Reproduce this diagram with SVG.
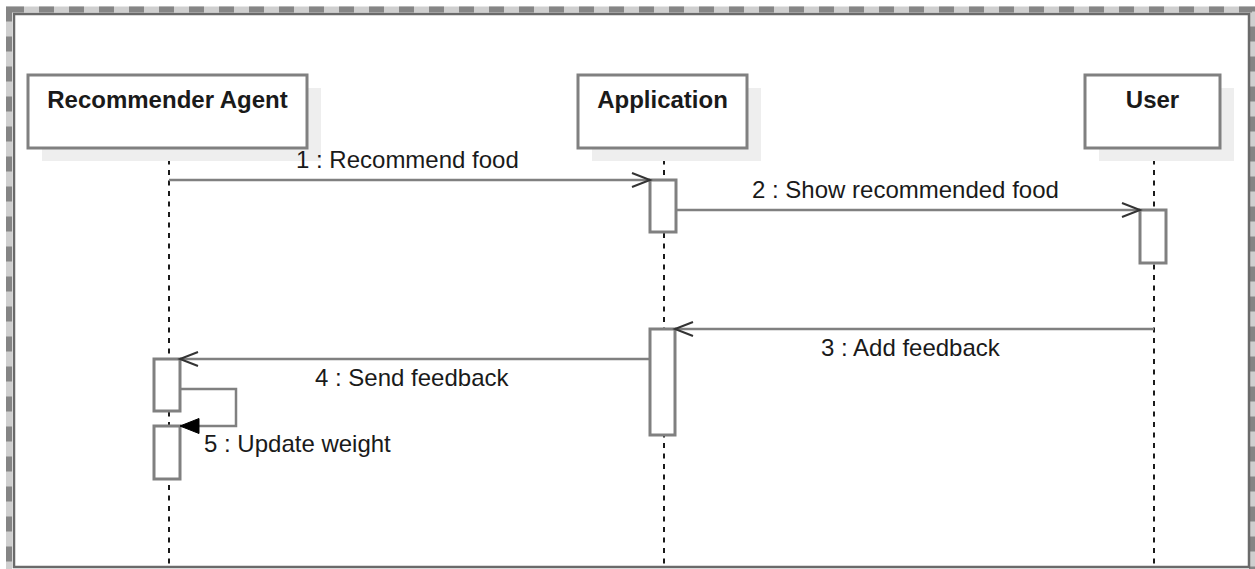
<svg xmlns="http://www.w3.org/2000/svg" width="1255" height="569" viewBox="0 0 1255 569">
  <defs>
    <style>
      .frame-band { fill: none; stroke: #cfcfcf; stroke-width: 6; }
      .frame-dash { fill: none; stroke: #858585; stroke-width: 6; stroke-dasharray: 15 15; }
      .frame-line { fill: none; stroke: #6a6a6a; stroke-width: 2.5; }
      .shadow { fill: #eeeeee; }
      .head { fill: #ffffff; stroke: #808080; stroke-width: 3; }
      .title { font-family: "Liberation Sans", Arial, sans-serif; font-size: 24px; font-weight: bold; fill: #1a1a1a; text-anchor: middle; }
      .lifeline { stroke: #1a1a1a; stroke-width: 2; stroke-dasharray: 5 5.5; fill: none; }
      .act { fill: #ffffff; stroke: #808080; stroke-width: 3; }
      .msg { fill: none; stroke: #808080; stroke-width: 2.5; }
      .label { font-family: "Liberation Sans", Arial, sans-serif; font-size: 24px; fill: #1a1a1a; }
    </style>
    <marker id="open" markerUnits="userSpaceOnUse" markerWidth="24" markerHeight="20" refX="20" refY="9" orient="auto">
      <path d="M2 2 L20 9 L2 16" fill="none" stroke="#333333" stroke-width="2"/>
    </marker>
    <marker id="filled" markerUnits="userSpaceOnUse" markerWidth="24" markerHeight="20" refX="20" refY="9" orient="auto">
      <path d="M1 1.5 L20 9 L1 16.5 Z" fill="#000000" stroke="#000000" stroke-width="1"/>
    </marker>
  </defs>

  <rect width="1255" height="569" fill="#ffffff"/>

  <!-- frame -->
  <g id="frame">
    <rect class="frame-band" x="9" y="9.5" width="1243" height="563"/>
    <rect class="frame-dash" x="9" y="9.5" width="1243" height="563"/>
    <rect class="frame-line" x="14" y="14" width="1235" height="553" fill="#ffffff"/>
  </g>

  <!-- lifelines -->
  <g id="agent">
    <line class="lifeline" x1="169" y1="149" x2="169" y2="566"/>
    <rect class="shadow" x="42" y="88" width="279" height="73"/>
    <rect class="head" x="28" y="75" width="279" height="73"/>
    <text class="title" x="167.5" y="108">Recommender Agent</text>
    <rect class="act" x="154" y="359" width="26" height="52"/>
    <rect class="act" x="154" y="426" width="26" height="53"/>
  </g>

  <g id="application">
    <line class="lifeline" x1="664" y1="149" x2="664" y2="566"/>
    <rect class="shadow" x="592" y="88" width="169" height="73"/>
    <rect class="head" x="578" y="75" width="169" height="73"/>
    <text class="title" x="662.5" y="108">Application</text>
    <rect class="act" x="650" y="180" width="26" height="52"/>
    <rect class="act" x="650" y="329" width="25" height="106"/>
  </g>

  <g id="user">
    <line class="lifeline" x1="1154" y1="149" x2="1154" y2="566"/>
    <rect class="shadow" x="1099" y="88" width="135" height="73"/>
    <rect class="head" x="1085" y="75" width="135" height="73"/>
    <text class="title" x="1152.5" y="108">User</text>
    <rect class="act" x="1140" y="210" width="26" height="53"/>
  </g>

  <!-- messages -->
  <g id="connectors">
    <line class="msg" x1="169" y1="180" x2="650" y2="180" marker-end="url(#open)"/>
    <line class="msg" x1="676" y1="210" x2="1140" y2="210" marker-end="url(#open)"/>
    <line class="msg" x1="1154" y1="329" x2="675" y2="329" marker-end="url(#open)"/>
    <line class="msg" x1="650" y1="359" x2="180" y2="359" marker-end="url(#open)"/>
    <polyline class="msg" points="180,389 236,389 236,426 180,426" marker-end="url(#filled)"/>
  </g>

  <g id="labels">
    <text class="label" x="296" y="168">1 : Recommend food</text>
    <text class="label" x="752" y="198">2 : Show recommended food</text>
    <text class="label" x="821" y="356">3 : Add feedback</text>
    <text class="label" x="315" y="386">4 : Send feedback</text>
    <text class="label" x="204" y="452">5 : Update weight</text>
  </g>
</svg>
